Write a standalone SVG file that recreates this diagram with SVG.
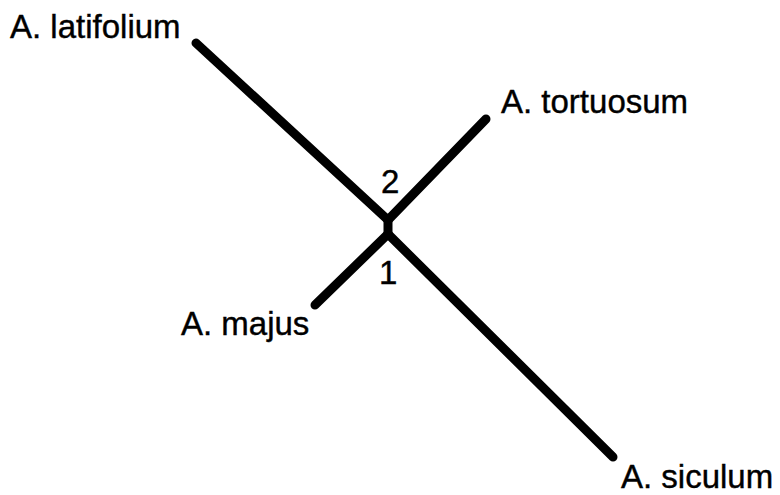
<svg xmlns="http://www.w3.org/2000/svg" width="780" height="495" viewBox="0 0 780 495">
<style>
.br{stroke:#000;stroke-width:9;stroke-linecap:round;fill:none}
.lb{font-family:"Liberation Sans",Arial,sans-serif;font-size:33px;fill:#000;stroke:#000;stroke-width:0.4}
</style>
<rect width="780" height="495" fill="#fff"/>
<g id="connectors">
<line class="br" x1="196" y1="43" x2="388" y2="220"/>
<line class="br" x1="486" y1="119" x2="388" y2="220"/>
<line class="br" x1="388" y1="219" x2="388" y2="234" style="stroke-linecap:butt"/>
<line class="br" x1="315" y1="305" x2="388" y2="234"/>
<line class="br" x1="388" y1="234" x2="613" y2="457"/>
</g>
<g id="n-latifolium"><text class="lb" x="10" y="38">A. latifolium</text></g>
<g id="n-tortuosum"><text class="lb" x="501" y="113">A. tortuosum</text></g>
<g id="n-majus"><text class="lb" x="181" y="335">A. majus</text></g>
<g id="n-siculum"><text class="lb" x="621" y="488">A. siculum</text></g>
<g id="n-2"><text class="lb" x="381" y="193">2</text></g>
<g id="n-1"><text class="lb" x="379" y="284">1</text></g>
</svg>
